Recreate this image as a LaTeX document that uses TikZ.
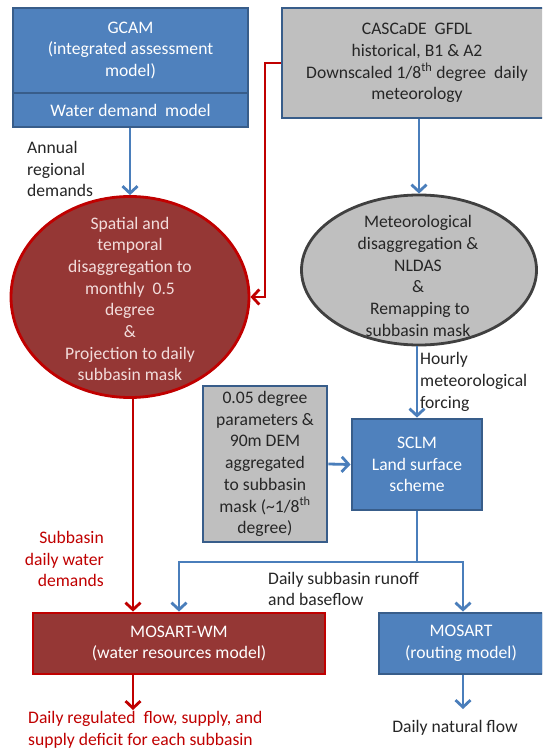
\documentclass[tikz,border=0pt]{standalone}
\usepackage{fontspec}
\setmainfont{Carlito}
\usetikzlibrary{arrows.meta,shapes.geometric}
\definecolor{bfill}{HTML}{4F81BD}
\definecolor{bline}{HTML}{385D8A}
\definecolor{gfill}{HTML}{BFBFBF}
\definecolor{gline}{HTML}{404040}
\definecolor{rfill}{HTML}{953735}
\definecolor{rline}{HTML}{C00000}
\definecolor{conn}{HTML}{4A7EBB}
\definecolor{dtext}{HTML}{262626}
\definecolor{ptext}{HTML}{F2DCDB}
\tikzset{
  txt/.style={font=\fontsize{17.6}{21.7}\selectfont, align=center, inner sep=0pt},
  bluebox/.style={txt, rectangle, draw=bline, fill=bfill, line width=2.8pt, text=white},
  graybox/.style={txt, rectangle, draw=bline, fill=gfill, line width=2.8pt, text=dtext},
  redbox/.style={txt, rectangle, draw=rline, fill=rfill, line width=2.8pt, text=white},
  redell/.style={ellipse, draw=rline, fill=rfill, line width=2.8pt, inner sep=0pt},
  grayell/.style={ellipse, draw=gline, fill=gfill, line width=2.8pt, inner sep=0pt},
  barrow/.style={draw=conn, line width=2.8pt, -{Straight Barb[length=7pt,width=15pt]}},
  bline/.style={draw=conn, line width=2.8pt},
  rarrow/.style={draw=rline, line width=2.8pt, -{Straight Barb[length=7pt,width=15pt]}},
  lbl/.style={txt, text=dtext},
  rlbl/.style={txt, text=rline},
}
\begin{document}
\begin{tikzpicture}[x=1pt,y=-1pt]
\useasboundingbox (0,0) rectangle (542,751);
\clip (0,0) rectangle (542,751);
\fill[white] (0,0) rectangle (542,751);
% boxes
\node[bluebox, minimum width=235pt, minimum height=85pt] (gcam) at (130.5,50.5)
  {GCAM\\(integrated assessment\\model)};
\node[bluebox, minimum width=235pt, minimum height=34pt] (wdm) at (130.5,110)
  {Water demand\ \ model};
\node[graybox, minimum width=270pt, minimum height=110pt] (casc) at (417,63)
  {CASCaDE\ \ GFDL\\historical, B1 \& A2\\Downscaled 1/8\textsuperscript{th} degree\ \ daily\\meteorology};
\node[redell, minimum width=238pt, minimum height=201pt] (red) at (130,297) {};
\node[txt, text=ptext] (redtxt) at (130,299)
  {Spatial and\\temporal\\disaggregation to\\monthly\ \ 0.5\\degree\\\&\\Projection to daily\\subbasin mask};
\node[grayell, minimum width=235pt, minimum height=150pt] (gray) at (419,270) {};
\node[txt, text=dtext] (graytxt) at (418,276)
  {Meteorological\\disaggregation \&\\NLDAS\\\&\\\ Remapping to\\subbasin mask};
\node[graybox, minimum width=124pt, minimum height=156pt] (param) at (265,464)
  {0.05 degree\\parameters \&\\90m DEM\\aggregated\\to subbasin\\mask (\textasciitilde1/8\textsuperscript{th}\\degree)};
\node[bluebox, minimum width=130pt, minimum height=91pt] (sclm) at (417,464.5)
  {SCLM\\Land surface\\scheme};
\node[redbox, minimum width=292pt, minimum height=61pt] (mwm) at (179,643.5)
  {MOSART-WM\\(water resources model)};
\node[bluebox, minimum width=164pt, minimum height=61pt] (mos) at (461,643.5)
  {MOSART\\(routing model)};
% labels
\node[lbl, anchor=west, align=left] (annual) at (27,169) {Annual\\regional\\demands};
\node[rlbl, anchor=east, align=right] (subd) at (104,559) {Subbasin\\daily water\\demands};
\node[lbl, anchor=west, align=left] (hourly) at (420,382) {Hourly\\meteorological\\forcing};
\node[lbl, anchor=west, align=left] (runoff) at (268,589) {Daily subbasin runoff\\and baseflow};
\node[rlbl, anchor=west, align=left] (outred) at (28,730) {Daily regulated\ \ flow, supply, and\\supply deficit for each subbasin};
\node[lbl] (natural) at (455,728) {Daily natural flow};
% coordinates
\coordinate (rc) at (265,63);
\coordinate (j) at (417,562);
\coordinate (jl) at (179,562);
\coordinate (jr) at (463,562);
\coordinate (rt) at (133,710);
\coordinate (nt) at (463,709);
% connectors
\draw[barrow] (wdm.south -| red.north) -- (red.north);
\draw[barrow] (gray.north |- casc.south) -- (gray.north);
\draw[barrow] (sclm.north |- gray.south) -- (sclm.north);
\draw[barrow] (param.east) -- (sclm.west);
\draw[bline] (sclm.south) -- (j);
\draw[barrow] (j) -- (jl) -- (jl |- mwm.north);
\draw[barrow] (j) -- (jr) -- (jr |- mos.north);
\draw[rarrow] (casc.west) -- (rc) |- (red.east);
\draw[rarrow] (rt |- red.south) -- (rt |- mwm.north);
\draw[rarrow] (rt |- mwm.south) -- (rt);
\draw[barrow] (nt |- mos.south) -- (nt);
\end{tikzpicture}
\end{document}
